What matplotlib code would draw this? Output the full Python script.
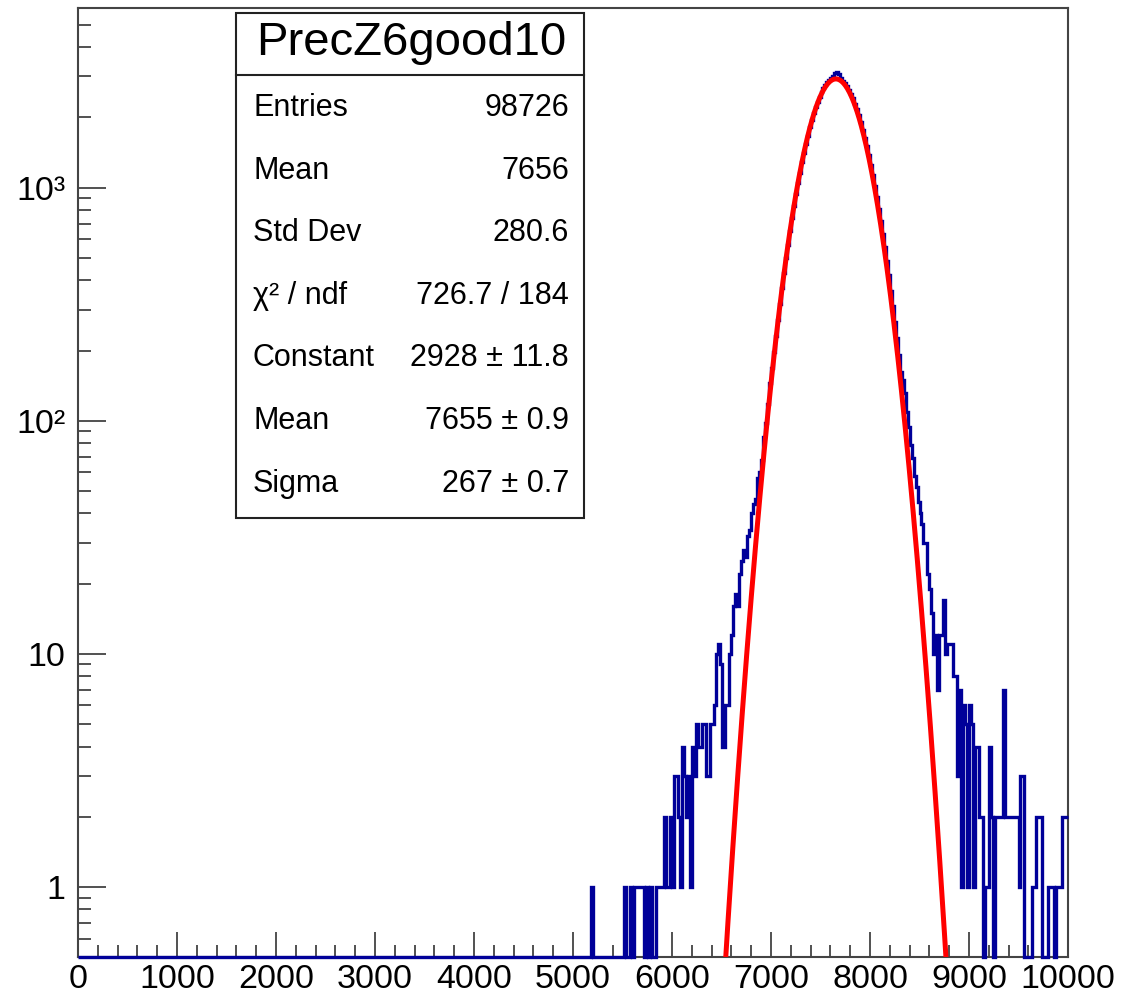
import numpy as np
import matplotlib
matplotlib.use('Agg')
import matplotlib.pyplot as plt
from matplotlib.patches import Rectangle
from matplotlib.lines import Line2D
from matplotlib.ticker import FixedLocator, FixedFormatter, FuncFormatter, LogLocator, NullFormatter, MultipleLocator

plt.rcParams['font.family'] = ['Liberation Sans', 'DejaVu Sans']

# --- histogram: 500 bins of width 20 between 0 and 10000 ---
BIN_W = 20
X_MIN, X_MAX = 0, 10000

# low tail, bins starting at 5100
tail_lo_start = 5100
tail_lo = [0, 0, 0, 0, 1, 0, 0, 0, 0, 0,
           0, 0, 0, 0, 0, 0, 0, 0, 0, 0,
           0, 1, 0, 0, 1, 0, 1, 1, 1, 1,
           1, 0, 1, 0, 1, 0, 0, 1, 1, 1,
           1, 2, 1, 1, 2, 1, 3, 3, 2, 1,
           4, 3, 2, 3, 1, 4, 3, 5, 4, 4,
           5, 5, 3, 3, 5, 5, 6, 10, 11, 9,
           4, 4, 6, 6, 10, 12, 16, 18, 16, 22,
           25, 28, 26, 32, 34, 40, 44, 46, 57, 60,
           68, 85, 98, 118]

# core, bins starting at 6980
core_start = 6980
core = [145, 168, 198, 232, 270, 318, 372, 430, 497, 570,
        652, 738, 836, 935, 1048, 1160, 1288, 1410, 1545, 1672,
        1815, 1948, 2085, 2210, 2342, 2455, 2570, 2668, 2765, 2840,
        2905, 2958, 3010, 3095, 3150, 3060, 2955, 2880, 2805, 2720,
        2630, 2525, 2415, 2290, 2170, 2040, 1905, 1770, 1640, 1505,
        1380, 1255, 1135, 1020, 915, 812, 720, 635, 555, 485,
        420, 362, 312, 266, 226, 192, 162, 150]

# high tail, bins starting at 8340
tail_hi_start = 8340
tail_hi = [131, 109, 94, 79, 69, 58, 52, 45, 40, 36,
           30, 30, 22, 19, 15, 10, 12, 7, 12, 12,
           17, 10, 11, 11, 11, 8, 8, 3, 7, 1,
           6, 5, 1, 6, 5, 1, 4, 4, 2, 2,
           0, 1, 1, 4, 2, 0, 2, 2, 2, 2,
           7, 2, 2, 2, 2, 2, 2, 2, 1, 3,
           3, 0, 0, 0, 0, 1, 1, 2, 2, 2,
           0, 0, 0, 1, 1, 1, 0, 1, 1, 1,
           2, 2, 2]

# gaussian fit parameters
fit_const, fit_mean, fit_sigma = 2928, 7655, 267

stats_labels = ['Entries', 'Mean', 'Std Dev', 'χ² / ndf', 'Constant', 'Mean', 'Sigma']
stats_values = ['98726', '7656', '280.6', '726.7 / 184', '2928 ± 11.8', '7655 ± 0.9', '267 ± 0.7']
hist_name = 'PrecZ6good10'

# --- build bins ---
edges = np.arange(X_MIN, X_MAX + BIN_W, BIN_W)
counts = np.zeros(len(edges) - 1)
for start, vals in [(tail_lo_start, tail_lo), (core_start, core), (tail_hi_start, tail_hi)]:
    i0 = (start - X_MIN) // BIN_W
    counts[i0:i0 + len(vals)] = vals

Y_MIN, Y_MAX = 0.5, 5900

W, H = 1125, 999
fig = plt.figure(figsize=(W / 100, H / 100), dpi=100)
ax = fig.add_axes([78 / W, 1 - 957 / H, 990 / W, 949 / H])

# empty bins sit on the bottom of the frame, like ROOT draws them
ax.stairs(np.maximum(counts, Y_MIN), edges, baseline=None, color='#000099', lw=2.4,
          clip_on=False, zorder=3)

xf = np.linspace(X_MIN, X_MAX, 4001)
yf = fit_const * np.exp(-0.5 * ((xf - fit_mean) / fit_sigma) ** 2)
ax.plot(xf, yf, color='#ff0000', lw=3.6, zorder=4)

ax.set_yscale('log')
ax.set_xlim(X_MIN, X_MAX)
ax.set_ylim(Y_MIN, Y_MAX)

ax.xaxis.set_major_locator(MultipleLocator(1000))
ax.xaxis.set_minor_locator(MultipleLocator(200))
ax.xaxis.set_major_formatter(FuncFormatter(lambda v, p: f'{int(v)}'))

ax.yaxis.set_major_locator(FixedLocator([1, 10, 100, 1000]))
ax.yaxis.set_major_formatter(FixedFormatter(['1', '10', '10²', '10³']))
ax.yaxis.set_minor_locator(LogLocator(base=10, subs=np.arange(2, 10), numticks=20))
ax.yaxis.set_minor_formatter(NullFormatter())

ax.tick_params(axis='both', which='both', direction='in', top=False, right=False,
               labelsize=24.5, width=1.2, color='#333333')
ax.tick_params(axis='x', which='major', length=18, pad=5)
ax.tick_params(axis='x', which='minor', length=8.5)
ax.tick_params(axis='y', which='major', length=20, pad=9)
ax.tick_params(axis='y', which='minor', length=9.5)
for s in ax.spines.values():
    s.set_linewidth(1.5)
    s.set_color('#444444')

# --- stats box ---
def fx(px):
    return px / W

def fy(py):
    return 1 - py / H

box_l, box_r, box_t, box_b = 236, 584, 13, 518
fig.add_artist(Rectangle((fx(box_l), fy(box_b)), fx(box_r) - fx(box_l), fy(box_t) - fy(box_b),
                         transform=fig.transFigure, facecolor='white', edgecolor='#222222', lw=1.5,
                         zorder=5))
fig.add_artist(Line2D([fx(box_l), fx(box_r)], [fy(75), fy(75)], transform=fig.transFigure,
                      color='#222222', lw=1.5, zorder=6))
fig.text(fx((box_l + box_r) / 2 + 1), fy(43), hist_name, ha='center', va='center',
         fontsize=34, zorder=7)

row_y0, row_dy = 108, 62.6
for k, (lab, val) in enumerate(zip(stats_labels, stats_values)):
    yy = fy(row_y0 + k * row_dy)
    fig.text(fx(253), yy, lab, ha='left', va='center', fontsize=22, zorder=7)
    fig.text(fx(569), yy, val, ha='right', va='center', fontsize=22, zorder=7)

fig.savefig('out.png', dpi=100)
